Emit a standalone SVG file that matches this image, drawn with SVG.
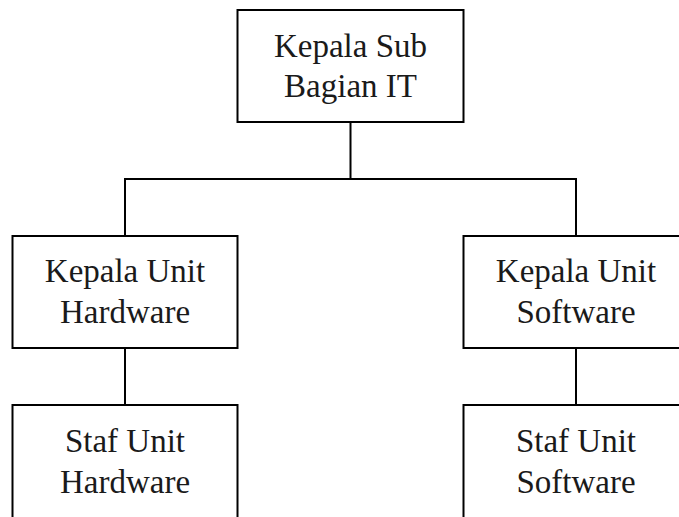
<svg xmlns="http://www.w3.org/2000/svg" width="679" height="517" viewBox="0 0 679 517">
<style>
.box{fill:#fff;stroke:#000;stroke-width:2}
.lbl{font-family:"Liberation Serif","Times New Roman",serif;font-size:33px;fill:#1a1a1a;text-anchor:middle}
.conn{stroke:#000;stroke-width:2;fill:none}
</style>
<rect width="679" height="517" fill="#fff"/>
<g id="connectors">
<path class="conn" d="M350.5 122V179M125 179H576M125 178V236M576 178V236M125 348V405M576 348V405"/>
</g>
<g id="kepala-sub-bagian-it">
<rect class="box" x="237.5" y="10" width="226" height="112"/>
<text class="lbl" x="350.5" y="57">Kepala Sub</text>
<text class="lbl" x="350.5" y="97">Bagian IT</text>
</g>
<g id="kepala-unit-hardware">
<rect class="box" x="12.5" y="236" width="225" height="112"/>
<text class="lbl" x="125" y="282">Kepala Unit</text>
<text class="lbl" x="125" y="323">Hardware</text>
</g>
<g id="kepala-unit-software">
<rect class="box" x="463.5" y="236" width="226" height="112"/>
<text class="lbl" x="576" y="282">Kepala Unit</text>
<text class="lbl" x="576" y="323">Software</text>
</g>
<g id="staf-unit-hardware">
<rect class="box" x="12.5" y="405" width="225" height="130"/>
<text class="lbl" x="125" y="452">Staf Unit</text>
<text class="lbl" x="125" y="493">Hardware</text>
</g>
<g id="staf-unit-software">
<rect class="box" x="463.5" y="405" width="226" height="130"/>
<text class="lbl" x="576" y="452">Staf Unit</text>
<text class="lbl" x="576" y="493">Software</text>
</g>
</svg>
